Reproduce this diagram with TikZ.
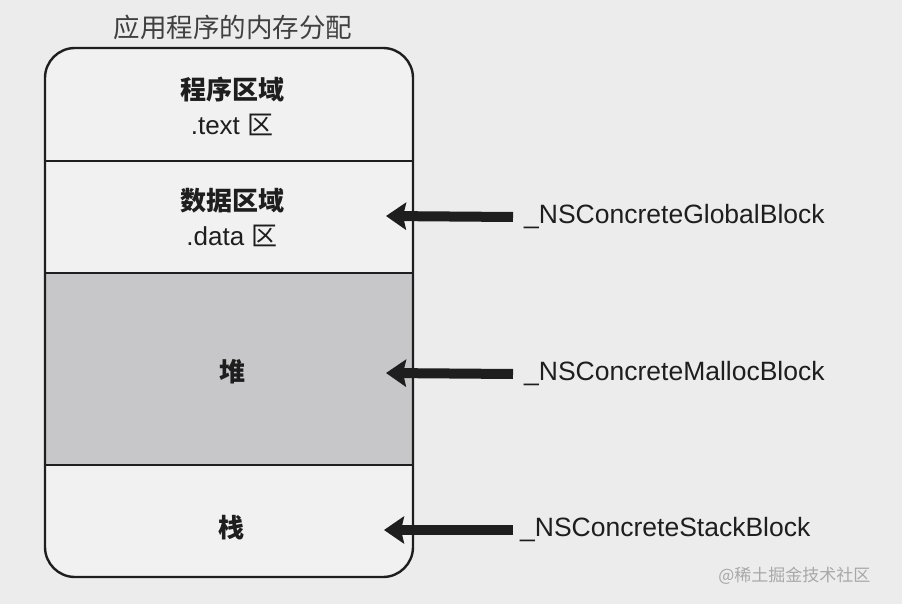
\documentclass[tikz,border=0pt]{standalone}
\usepackage{fontspec}
\setmainfont{Liberation Sans}
\newfontfamily\cjk{Noto Sans CJK SC}
\usetikzlibrary{arrows.meta}
\definecolor{bgc}{HTML}{ECECEC}
\definecolor{boxc}{HTML}{F1F1F1}
\definecolor{heapc}{HTML}{C7C6C9}
\definecolor{inkc}{HTML}{1E1E1E}
\definecolor{wmc}{HTML}{A8A8A8}
\newcommand{\cjkb}[1]{{\cjk\bfseries #1}}
\newcommand{\cjkm}[1]{{\cjk #1}}
\tikzset{
  seclabel/.style={align=center,text=inkc,font=\fontsize{26}{35}\selectfont},
  blocklabel/.style={anchor=west,text=inkc,inner sep=0pt,font=\fontsize{26.5}{30}\selectfont},
  bigarrow/.style={draw=inkc,line width=10pt,-{Stealth[length=20pt,width=27pt,inset=3pt]}},
  divider/.style={draw=inkc,line width=2.4pt}
}
\begin{document}
\begin{tikzpicture}[x=1pt,y=-1pt]
\fill[bgc] (0,0) rectangle (902,604);
\useasboundingbox (0,0) rectangle (902,604);
% box body
\fill[boxc,rounded corners=30pt] (45,48) rectangle (413,577);
\fill[heapc] (45,273) rectangle (413,465);
\draw[divider] (45,161) -- (413,161);
\draw[divider] (45,273) -- (413,273);
\draw[divider] (45,465) -- (413,465);
\draw[divider,rounded corners=30pt] (45,48) rectangle (413,577);
% title
\node[text=inkc!85,font=\fontsize{26.5}{28}\selectfont\cjk] (title) at (233,27) {应用程序的内存分配};
% section labels
\node[seclabel] (text) at (232,106) {\cjkb{程序区域}\\.text \cjkm{区}};
\node[seclabel] (data) at (232,218) {\cjkb{数据区域}\\.data \cjkm{区}};
\node[seclabel] (heap) at (232,372) {\cjkb{堆}};
\node[seclabel] (stack) at (231,528) {\cjkb{栈}};
% block labels
\node[blocklabel] (global) at (524,217) {\_NSConcreteGlobalBlock};
\node[blocklabel] (malloc) at (524,374) {\_NSConcreteMallocBlock};
\node[blocklabel] (stackb) at (520,530) {\_NSConcreteStackBlock};
\coordinate (tipg) at (386,216);
\coordinate (tipm) at (386,373);
\coordinate (tips) at (384,530);
\draw[bigarrow] ([xshift=-11pt]global.west) -- (tipg);
\draw[bigarrow] ([xshift=-11pt]malloc.west) -- (tipm);
\draw[bigarrow] ([xshift=-7pt]stackb.west) -- (tips);
% watermark
\node[text=wmc,font=\fontsize{17}{20}\selectfont\cjk,anchor=east] (wm) at (874,576) {@稀土掘金技术社区};
\end{tikzpicture}
\end{document}
